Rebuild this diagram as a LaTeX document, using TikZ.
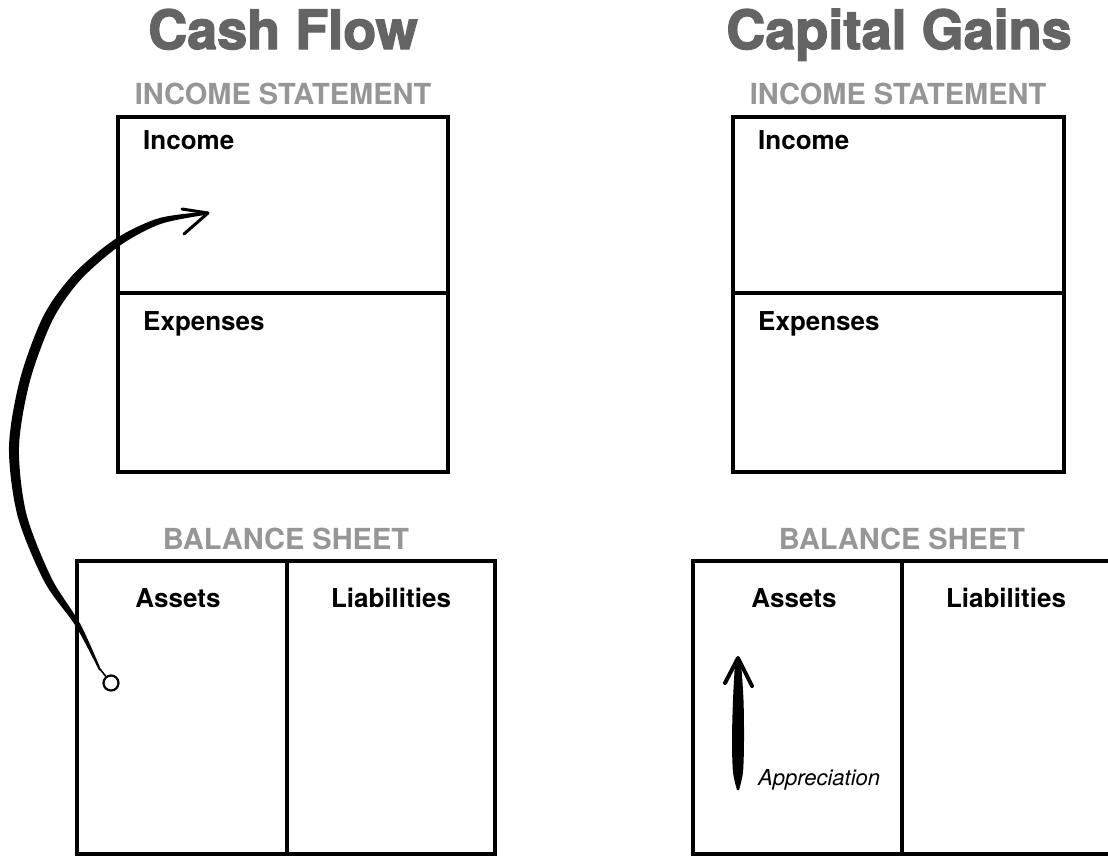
\documentclass[tikz,border=0pt]{standalone}
\usepackage{fontspec}
\setmainfont{TeX Gyre Heros}
\newfontfamily\heavyfont[FakeBold=2.5]{texgyreheros-bold.otf}
\definecolor{titlegray}{RGB}{100,100,100}
\definecolor{subgray}{RGB}{150,150,150}
\begin{document}
\begin{tikzpicture}[x=1pt,y=-1pt,
  box/.style={line width=4pt},
  titletext/.style={font=\heavyfont\fontsize{54}{60}\selectfont, text=titlegray, inner sep=0pt, anchor=base},
  subtext/.style={font=\bfseries\fontsize{29}{32}\selectfont, text=subgray, inner sep=0pt, anchor=base},
  lbl/.style={font=\bfseries\fontsize{26}{28}\selectfont, text=black, inner sep=0pt},
  brush/.style={fill=black},
  barb/.style={line width=3pt, line cap=round, line join=round}
]
\useasboundingbox (0,0) rectangle (1108,857);

% titles
\node[titletext] (t1) at (283,49) {Cash Flow};
\node[titletext] (t2) at (899,49) {Capital Gains};

% headings
\node[subtext] (is1) at (283,104) {INCOME STATEMENT};
\node[subtext] (is2) at (898,104) {INCOME STATEMENT};
\node[subtext] (bs1) at (286,549) {BALANCE SHEET};
\node[subtext] (bs2) at (902,549) {BALANCE SHEET};

% income statements
\draw[box] (118,117) rectangle (448,472);
\draw[box] (118,293) -- (448,293);
\draw[box] (733,117) rectangle (1064,472);
\draw[box] (733,293) -- (1064,293);

% balance sheets
\draw[box] (77,561) rectangle (495,854);
\draw[box] (287,561) -- (287,854);
\draw[box] (693,561) rectangle (1111,854);
\draw[box] (902,561) -- (902,854);

% labels
\node[lbl, anchor=base west] (inc1) at (143,149) {Income};
\node[lbl, anchor=base west] (exp1) at (143,330) {Expenses};
\node[lbl, anchor=base] (as1) at (178,607) {Assets};
\node[lbl, anchor=base] (li1) at (391,607) {Liabilities};
\node[lbl, anchor=base west] (inc2) at (758,149) {Income};
\node[lbl, anchor=base west] (exp2) at (758,330) {Expenses};
\node[lbl, anchor=base] (as2) at (794,607) {Assets};
\node[lbl, anchor=base] (li2) at (1006,607) {Liabilities};

% cash flow brush arrow
\fill[brush] plot[smooth] coordinates {(207.75,211.52) (159.08,218.15) (115.76,238.68) (73.69,273.95) (43.53,315.74) (20.16,378.72) (9,446.89) (17.64,516.12) (44.44,581.82) (75.83,626.25) (99.1,670.44)}
  -- plot[smooth] coordinates {(100.9,669.56) (80.17,623.75) (51.56,578.18) (26.36,513.88) (19,447.11) (29.84,381.28) (52.47,320.26) (80.31,280.05) (120.24,245.32) (160.92,223.85) (208.25,214.48)} -- cycle;
\node[draw, circle, line width=2.2pt, minimum size=15pt, inner sep=0pt] (c0) at (111,683) {};
\coordinate (p10) at (100,669);
\draw[line width=1.6pt] (c0) -- (p10);
\coordinate (tip) at (208,213);
\coordinate (b1) at (182,209);
\coordinate (b2) at (184,234);
\draw[barb] (b1) -- (tip) -- (b2);

% appreciation arrow
\fill[brush] plot[smooth] coordinates {(735,662) (733,700) (732,740) (733,772) (737,790)}
  -- plot[smooth] coordinates {(739,790) (743,772) (744,740) (743.5,700) (741,662)} -- cycle;
\coordinate (atip) at (738,658);
\coordinate (a1) at (725,683);
\coordinate (a2) at (752,686);
\draw[barb, line width=4pt] (a1) -- (atip) -- (a2);
\node[font=\itshape\fontsize{22}{24}\selectfont, inner sep=0pt, anchor=base west] (app) at (758,785) {Appreciation};
\end{tikzpicture}
\end{document}
